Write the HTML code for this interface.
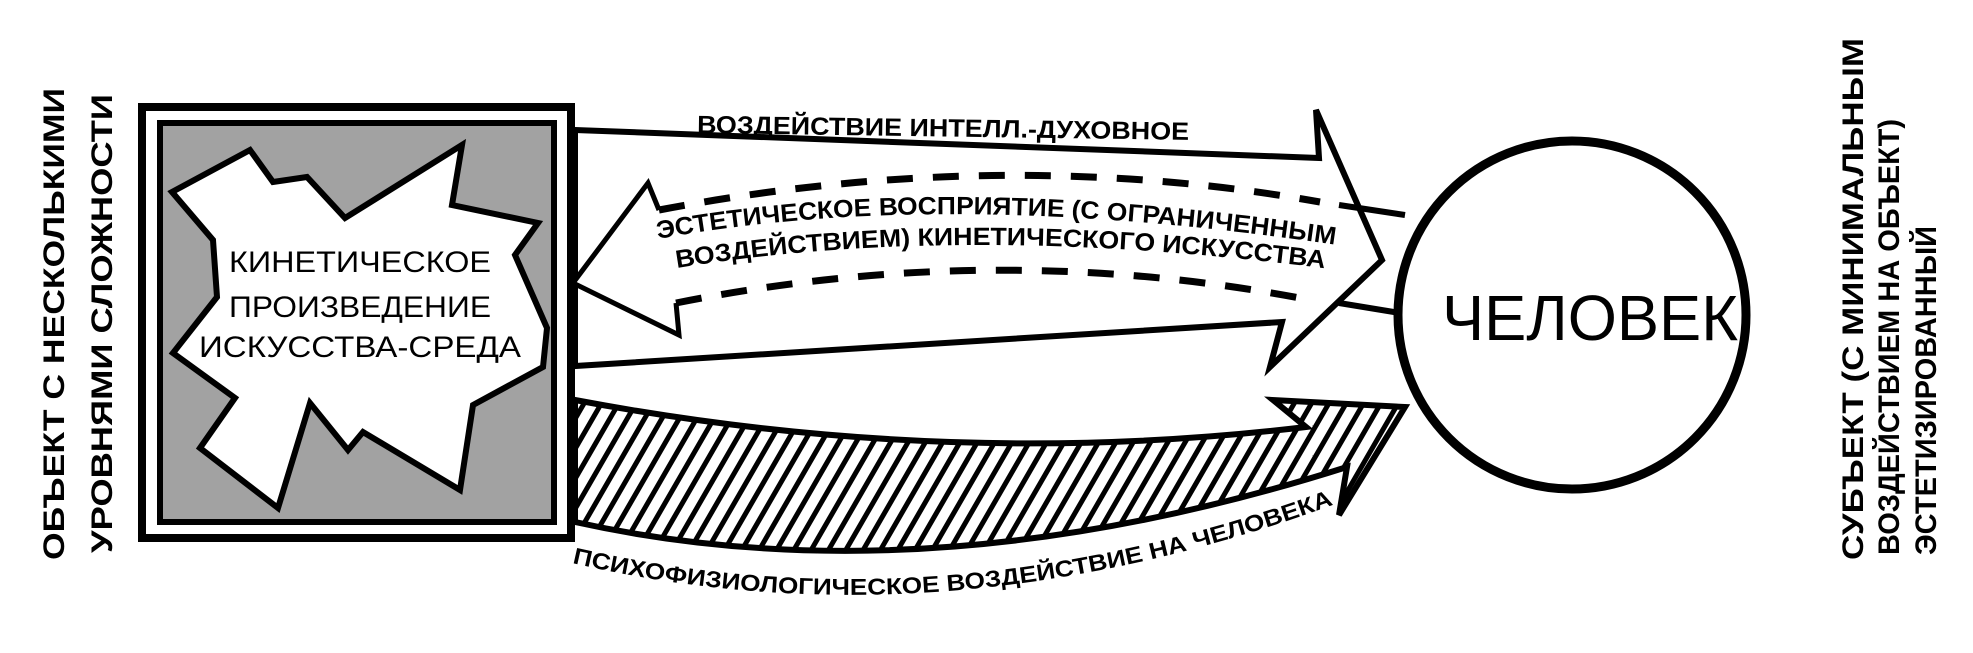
<!DOCTYPE html>
<html><head><meta charset="utf-8"><style>
html,body{margin:0;padding:0;background:#fff;}
svg{display:block;}
text{font-family:"Liberation Sans",sans-serif;fill:#000;}
</style></head><body>
<svg width="1973" height="653" viewBox="0 0 1973 653" xmlns="http://www.w3.org/2000/svg">
<defs>
<pattern id="hatch" patternUnits="userSpaceOnUse" width="15" height="15" patternTransform="rotate(30)">
<rect width="15" height="15" fill="#fff"/>
<rect x="0" y="0" width="5" height="15" fill="#000"/>
</pattern>
<path id="p1" d="M658,239 Q940,187 1330,244"/>
<path id="p2" d="M677,268 Q960,222 1322,268"/>
<path id="p3" d="M572,563 Q938,648 1330,506"/>
</defs>

<rect x="142" y="107" width="429" height="431" fill="#fff" stroke="#000" stroke-width="8"/>
<rect x="160" y="123" width="394" height="399" fill="#a2a2a2" stroke="#000" stroke-width="6"/>
<polygon points="172,192 250,150 273,182 307,177 345,218 462,145 452,205 538,223 515,255 547,328 543,367 473,405 460,490 363,432 348,450 310,403 278,508 200,448 235,398 173,353 217,297 213,240" fill="#fff" stroke="#000" stroke-width="6" stroke-linejoin="miter"/>
<text x="360" y="272" font-size="30" text-anchor="middle" textLength="262" lengthAdjust="spacingAndGlyphs">КИНЕТИЧЕСКОЕ</text>
<text x="360" y="317" font-size="30" text-anchor="middle" textLength="262" lengthAdjust="spacingAndGlyphs">ПРОИЗВЕДЕНИЕ</text>
<text x="360" y="357" font-size="30" text-anchor="middle" textLength="322" lengthAdjust="spacingAndGlyphs">ИСКУССТВА-СРЕДА</text>

<polygon points="575,130 1319,158 1316,110 1382,260 1270,367 1282,322 575,366" fill="#fff" stroke="#000" stroke-width="6" stroke-linejoin="miter"/>
<line x1="1339" y1="205" x2="1405" y2="215" stroke="#000" stroke-width="6"/>
<line x1="1339" y1="303" x2="1400" y2="313" stroke="#000" stroke-width="6"/>

<polygon points="573,283 648,183 659,210 1000,175 1320,202 1300,298 1000,268 676,303 679,335" fill="#fff" stroke="none"/>
<polyline points="659,210 648,183 573,283 679,335 676,303" fill="none" stroke="#000" stroke-width="5" stroke-linejoin="miter"/>
<path d="M659,210 Q1000,145 1320,202" fill="none" stroke="#000" stroke-width="7" stroke-dasharray="26,20"/>
<path d="M676,303 Q990,240 1300,298" fill="none" stroke="#000" stroke-width="7" stroke-dasharray="26,20"/>

<text font-size="25" font-weight="bold"><textPath href="#p1" textLength="680" lengthAdjust="spacingAndGlyphs">ЭСТЕТИЧЕСКОЕ ВОСПРИЯТИЕ (С ОГРАНИЧЕННЫМ</textPath></text>
<text font-size="25" font-weight="bold"><textPath href="#p2" textLength="650" lengthAdjust="spacingAndGlyphs">ВОЗДЕЙСТВИЕМ) КИНЕТИЧЕСКОГО ИСКУССТВА</textPath></text>

<text x="697" y="133" font-size="25" font-weight="bold" textLength="492" lengthAdjust="spacingAndGlyphs" transform="rotate(0.8 697 133)">ВОЗДЕЙСТВИЕ ИНТЕЛЛ.-ДУХОВНОЕ</text>

<path d="M575,400 Q946,470 1306,427 L1273,400 L1405,407 L1339,515 L1347,467 Q928,600 575,522 Z" fill="url(#hatch)" stroke="#000" stroke-width="6" stroke-linejoin="miter"/>

<text font-size="23" font-weight="bold"><textPath href="#p3" textLength="775" lengthAdjust="spacingAndGlyphs">ПСИХОФИЗИОЛОГИЧЕСКОЕ ВОЗДЕЙСТВИЕ НА ЧЕЛОВЕКА</textPath></text>

<circle cx="1572" cy="315" r="174" fill="#fff" stroke="#000" stroke-width="9"/>
<text x="1590" y="340" font-size="64" text-anchor="middle" textLength="296" lengthAdjust="spacingAndGlyphs">ЧЕЛОВЕК</text>

<text font-size="30" font-weight="bold" transform="translate(64,560) rotate(-90)" textLength="472" lengthAdjust="spacingAndGlyphs">ОБЪЕКТ С НЕСКОЛЬКИМИ</text>
<text font-size="30" font-weight="bold" transform="translate(112,553) rotate(-90)" textLength="459" lengthAdjust="spacingAndGlyphs">УРОВНЯМИ СЛОЖНОСТИ</text>

<text font-size="30" font-weight="bold" transform="translate(1863,560) rotate(-90)" textLength="522" lengthAdjust="spacingAndGlyphs">СУБЪЕКТ (С МИНИМАЛЬНЫМ</text>
<text font-size="30" font-weight="bold" transform="translate(1899,555) rotate(-90)" textLength="436" lengthAdjust="spacingAndGlyphs">ВОЗДЕЙСТВИЕМ НА ОБЪЕКТ)</text>
<text font-size="30" font-weight="bold" transform="translate(1936,555) rotate(-90)" textLength="329" lengthAdjust="spacingAndGlyphs">ЭСТЕТИЗИРОВАННЫЙ</text>
</svg>
</body></html>
